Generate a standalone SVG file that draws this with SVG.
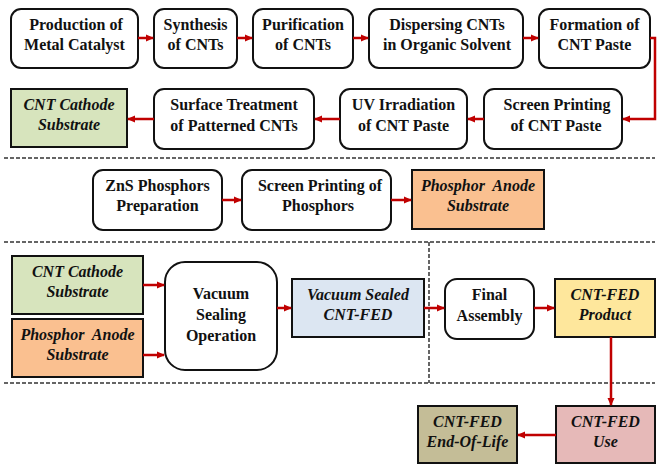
<svg xmlns="http://www.w3.org/2000/svg" width="657" height="466" viewBox="0 0 657 466">
<style>
.bx{stroke:#111;stroke-width:2;}
.rd{fill:#fff;}
.t{font-family:'Liberation Serif','Times New Roman',Times,serif;font-weight:700;font-size:16px;fill:#111;text-anchor:middle;}
.i{font-style:italic;}
.c{fill:none;stroke:#c00000;stroke-width:2.5;}
.d{fill:none;stroke:#333;stroke-width:1.5;stroke-dasharray:4 2;}
</style>
<defs>
<marker id="ah" markerWidth="8" markerHeight="8" refX="7" refY="4" orient="auto" markerUnits="userSpaceOnUse">
<path d="M0,0.5 L8,4 L0,7.5 Z" fill="#c00000"/>
</marker>
</defs>
<rect width="657" height="466" fill="#fff"/>
<g id="dividers">
<path class="d" d="M4,158 H655"/>
<path class="d" d="M4,242 H655"/>
<path class="d" d="M429,242 V383"/>
<path class="d" d="M4,383 H655"/>
</g>
<g font-family="Liberation Serif, serif">
<g id="n1"><rect class="bx rd" x="11" y="9" width="127" height="59" rx="10"/><text class="t" x="76" y="30">Production of</text><text class="t" x="74.5" y="50">Metal Catalyst</text></g>
<g id="n2"><rect class="bx rd" x="154" y="9" width="83" height="59" rx="10"/><text class="t" x="195.5" y="30">Synthesis</text><text class="t" x="195.5" y="50">of CNTs</text></g>
<g id="n3"><rect class="bx rd" x="253" y="9" width="100" height="59" rx="10"/><text class="t" x="303" y="30">Purification</text><text class="t" x="303" y="50">of CNTs</text></g>
<g id="n4"><rect class="bx rd" x="369" y="9" width="154" height="59" rx="10"/><text class="t" x="447" y="30">Dispersing CNTs</text><text class="t" x="447" y="50">in Organic Solvent</text></g>
<g id="n5"><rect class="bx rd" x="539" y="9" width="111" height="59" rx="10"/><text class="t" x="594.5" y="30">Formation of</text><text class="t" x="594.5" y="50">CNT Paste</text></g>
<g id="n6"><rect class="bx rd" x="484" y="89" width="138" height="60" rx="10"/><text class="t" x="557" y="110">Screen Printing</text><text class="t" x="556" y="131">of CNT Paste</text></g>
<g id="n7"><rect class="bx rd" x="340" y="89" width="127" height="60" rx="10"/><text class="t" x="403.5" y="110">UV Irradiation</text><text class="t" x="403.5" y="131">of CNT Paste</text></g>
<g id="n8"><rect class="bx rd" x="154" y="89" width="160" height="60" rx="10"/><text class="t" x="234" y="110">Surface Treatment</text><text class="t" x="234" y="131">of Patterned CNTs</text></g>
<g id="n9"><rect class="bx" fill="#d7e4bd" x="11" y="89" width="116" height="58"/><text class="t i" x="69" y="110">CNT Cathode</text><text class="t i" x="69" y="130">Substrate</text></g>
<g id="n10"><rect class="bx rd" x="93" y="170" width="129" height="60" rx="10"/><text class="t" x="157.5" y="191">ZnS Phosphors</text><text class="t" x="157.5" y="211">Preparation</text></g>
<g id="n11"><rect class="bx rd" x="242" y="170" width="149" height="60" rx="10"/><text class="t" x="320" y="191">Screen Printing of</text><text class="t" x="318" y="211">Phosphors</text></g>
<g id="n12"><rect class="bx" fill="#fac090" x="412" y="170" width="132" height="59"/><text class="t i" x="478" y="191" xml:space="preserve">Phosphor  Anode</text><text class="t i" x="478" y="211">Substrate</text></g>
<g id="n13"><rect class="bx" fill="#d7e4bd" x="12" y="256" width="131" height="58"/><text class="t i" x="77.5" y="277">CNT Cathode</text><text class="t i" x="77.5" y="297">Substrate</text></g>
<g id="n14"><rect class="bx" fill="#fac090" x="12" y="319" width="131" height="58"/><text class="t i" x="77.5" y="340" xml:space="preserve">Phosphor  Anode</text><text class="t i" x="77.5" y="360">Substrate</text></g>
<g id="n15"><rect class="bx rd" x="165" y="262" width="112" height="108" rx="20"/><text class="t" x="221" y="299">Vacuum</text><text class="t" x="221" y="320">Sealing</text><text class="t" x="221" y="341">Operation</text></g>
<g id="n16"><rect class="bx" fill="#dce6f2" x="292" y="279" width="132" height="58"/><text class="t i" x="358" y="300">Vacuum Sealed</text><text class="t i" x="358" y="320">CNT-FED</text></g>
<g id="n17"><rect class="bx rd" x="445" y="279" width="89" height="60" rx="12"/><text class="t" x="489.5" y="300">Final</text><text class="t" x="489.5" y="321">Assembly</text></g>
<g id="n18"><rect class="bx" fill="#fee79c" x="555" y="279" width="100" height="58"/><text class="t i" x="605" y="300">CNT-FED</text><text class="t i" x="605" y="320">Product</text></g>
<g id="n19"><rect class="bx" fill="#e6b9b8" x="556" y="406" width="99" height="57"/><text class="t i" x="605.5" y="427">CNT-FED</text><text class="t i" x="605.5" y="447">Use</text></g>
<g id="n20"><rect class="bx" fill="#c4bd97" x="418" y="406" width="99" height="57"/><text class="t i" x="467.5" y="427">CNT-FED</text><text class="t i" x="467.5" y="447">End-Of-Life</text></g>
</g>
<g id="connectors">
<path class="c" marker-end="url(#ah)" d="M138,38 H153"/>
<path class="c" marker-end="url(#ah)" d="M237,38 H252"/>
<path class="c" marker-end="url(#ah)" d="M353,38 H368"/>
<path class="c" marker-end="url(#ah)" d="M523,38 H538"/>
<path class="c" marker-end="url(#ah)" d="M650,38 H655 V119 H623"/>
<path class="c" marker-end="url(#ah)" d="M484,119 H468"/>
<path class="c" marker-end="url(#ah)" d="M340,119 H315"/>
<path class="c" marker-end="url(#ah)" d="M154,119 H128"/>
<path class="c" marker-end="url(#ah)" d="M222,200 H241"/>
<path class="c" marker-end="url(#ah)" d="M391,200 H411"/>
<path class="c" marker-end="url(#ah)" d="M143,285 H164"/>
<path class="c" marker-end="url(#ah)" d="M143,355 H164"/>
<path class="c" marker-end="url(#ah)" d="M277,308 H291"/>
<path class="c" marker-end="url(#ah)" d="M424,308 H444"/>
<path class="c" marker-end="url(#ah)" d="M534,308 H554"/>
<path class="c" marker-end="url(#ah)" d="M611,337 V405"/>
<path class="c" marker-end="url(#ah)" d="M556,435 H518"/>
</g>
</svg>
